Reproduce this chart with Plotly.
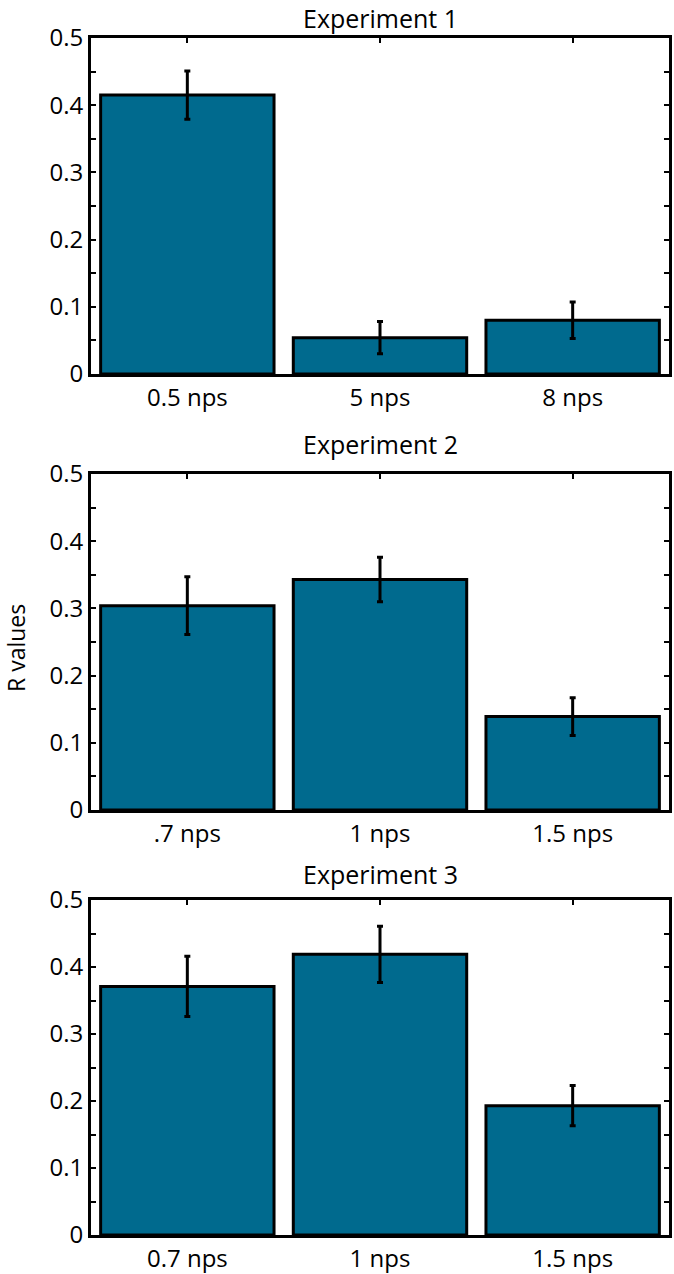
import plotly.graph_objects as go

# ---- data ----
titles = ["Experiment 1", "Experiment 2", "Experiment 3"]
cats1 = ["0.5 nps", "5 nps", "8 nps"]
cats2 = [".7 nps", "1 nps", "1.5 nps"]
cats3 = ["0.7 nps", "1 nps", "1.5 nps"]
vals1 = [0.415, 0.054, 0.080]
vals2 = [0.304, 0.343, 0.139]
vals3 = [0.371, 0.419, 0.193]
err1 = [0.036, 0.024, 0.027]
err2 = [0.043, 0.033, 0.028]
err3 = [0.045, 0.042, 0.030]
ytickvals = [0, 0.1, 0.2, 0.3, 0.4, 0.5]
yticktext = ["0", "0.1", "0.2", "0.3", "0.4", "0.5"]
ylabel = "R values"

W, H = 674, 1274
FONT = "Open Sans"
FS = 24
BAR_COLOR = "#006a8e"

panels = [
    (cats1, vals1, err1, (38, 374), None),
    (cats2, vals2, err2, (474, 810), 11),
    (cats3, vals3, err3, (900, 1235), 7),
]
xdom = [91 / W, 669 / W]

fig = go.Figure()
annotations = []
for i, (cats, vals, errs, (top, bot), tshift) in enumerate(panels):
    n = i + 1
    xa = "x" if n == 1 else f"x{n}"
    ya = "y" if n == 1 else f"y{n}"
    xpos = list(range(1, len(cats) + 1))
    fig.add_trace(go.Bar(
        x=xpos, y=vals, width=0.9,
        marker=dict(color=BAR_COLOR, line=dict(color="black", width=3)),
        error_y=dict(type="data", array=errs, visible=True,
                     color="black", thickness=3, width=3),
        xaxis=xa, yaxis=ya, showlegend=False, hoverinfo="skip",
    ))
    ydom = [1 - bot / H, 1 - top / H]
    axkey = "xaxis" if n == 1 else f"xaxis{n}"
    aykey = "yaxis" if n == 1 else f"yaxis{n}"
    fig.layout[axkey] = dict(
        domain=xdom, anchor=ya, range=[0.5, 3.5], automargin=False,
        tickvals=xpos, ticktext=cats,
        ticks="inside", ticklen=5, tickwidth=2, tickcolor="black",
        showline=True, linecolor="black", linewidth=3, mirror="ticks",
        showgrid=False, zeroline=False, layer="below traces",
        tickfont=dict(family=FONT, size=FS, color="black"),
    )
    fig.layout[aykey] = dict(
        domain=ydom, anchor=xa, range=[0, 0.5], automargin=False,
        tickvals=ytickvals, ticktext=yticktext,
        ticks="inside", ticklen=5, tickwidth=2, tickcolor="black",
        minor=dict(ticks="inside", ticklen=5, tickwidth=2, tickcolor="black", dtick=0.05),
        showline=True, linecolor="black", linewidth=3, mirror="ticks",
        showgrid=False, zeroline=False,
        tickfont=dict(family=FONT, size=FS, color="black"),
    )
    if tshift is None:
        # top panel title: pinned to the top of the page
        annotations.append(dict(
            text=titles[i], xref="paper", yref="paper",
            x=(xdom[0] + xdom[1]) / 2, y=1, xanchor="center", yanchor="top",
            borderpad=0, showarrow=False,
            font=dict(family=FONT, size=25, color="black"),
        ))
    else:
        annotations.append(dict(
            text=titles[i], xref="paper", yref="paper",
            x=(xdom[0] + xdom[1]) / 2, y=ydom[1], xanchor="center", yanchor="bottom",
            yshift=tshift, showarrow=False,
            font=dict(family=FONT, size=25, color="black"),
        ))

annotations.append(dict(
    text=ylabel, xref="paper", yref="paper",
    x=16 / W, y=1 - 648 / H, xanchor="center", yanchor="middle",
    textangle=-90, showarrow=False,
    font=dict(family=FONT, size=23, color="black"),
))

fig.update_layout(
    width=W, height=H,
    margin=dict(l=0, r=0, t=0, b=0, autoexpand=False),
    paper_bgcolor="white", plot_bgcolor="white",
    annotations=annotations,
    bargap=0.1,
)

fig.write_html(
    "out.html",
    config={"displayModeBar": False, "staticPlot": True},
    post_script="document.body.style.margin='0';document.body.style.overflow='hidden';",
)
